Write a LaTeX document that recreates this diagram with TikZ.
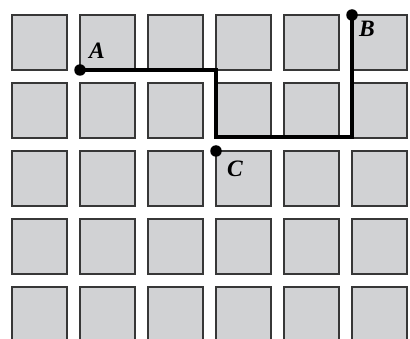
\documentclass[tikz,border=0pt]{standalone}
\usepackage{fontspec}
\setmainfont{Liberation Serif}
\definecolor{cellfill}{RGB}{209,210,212}
\definecolor{celledge}{RGB}{55,55,55}
\begin{document}
\begin{tikzpicture}[x=1pt,y=-1pt,
  cell/.style={draw=celledge,fill=cellfill,line width=1.3pt},
  route/.style={line width=4pt,black},
  dotnode/.style={circle,fill=black,inner sep=0pt,minimum size=11.5pt},
  lbl/.style={anchor=base,inner sep=0pt,font=\fontsize{23.5}{23.5}\selectfont\bfseries\itshape}]
\useasboundingbox (0,0) rectangle (410,339);
\clip (0,0) rectangle (410,339);
\foreach \i in {0,...,5}{
  \foreach \j in {0,...,4}{
    \draw[cell] ({12+68*\i},{15+68*\j}) rectangle ++(55,55);
  }
}
\coordinate (A) at (80,70);
\coordinate (B) at (352,15);
\coordinate (C) at (216,151);
\coordinate (turn) at (216,137);
\draw[route] (A) -| (turn) -| (B);
\node[dotnode] (dA) at (A) {};
\node[dotnode] (dB) at (B) {};
\node[dotnode] (dC) at (C) {};
\node[lbl] (lA) at (97,59) {A};
\node[lbl] (lB) at (367,37) {B};
\node[lbl] (lC) at (235,177) {C};
\end{tikzpicture}
\end{document}
